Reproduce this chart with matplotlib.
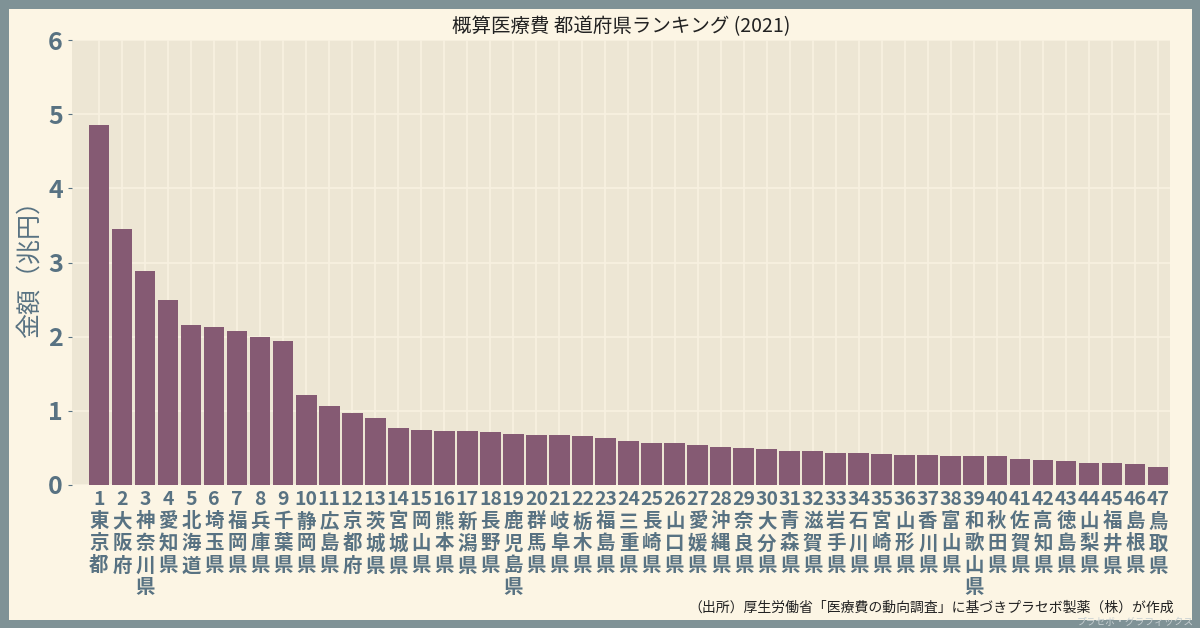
import matplotlib.pyplot as plt

plt.rcParams["font.family"] = "Noto Sans CJK JP"

# 都道府県と概算医療費（兆円）
prefs = ["東京都", "大阪府", "神奈川県", "愛知県", "北海道", "埼玉県", "福岡県", "兵庫県", "千葉県",
         "静岡県", "広島県", "京都府", "茨城県", "宮城県", "岡山県", "熊本県", "新潟県", "長野県",
         "鹿児島県", "群馬県", "岐阜県", "栃木県", "福島県", "三重県", "長崎県", "山口県", "愛媛県",
         "沖縄県", "奈良県", "大分県", "青森県", "滋賀県", "岩手県", "石川県", "宮崎県", "山形県",
         "香川県", "富山県", "和歌山県", "秋田県", "佐賀県", "高知県", "徳島県", "山梨県", "福井県",
         "島根県", "鳥取県"]
values = [4.85, 3.45, 2.88, 2.49, 2.16, 2.13, 2.08, 1.99, 1.94,
          1.21, 1.06, 0.97, 0.90, 0.77, 0.74, 0.73, 0.73, 0.71,
          0.69, 0.67, 0.67, 0.66, 0.63, 0.59, 0.57, 0.56, 0.54,
          0.51, 0.50, 0.48, 0.46, 0.45, 0.43, 0.43, 0.42, 0.40,
          0.40, 0.39, 0.39, 0.39, 0.35, 0.34, 0.32, 0.29, 0.29,
          0.28, 0.24]
ranks = list(range(1, len(prefs) + 1))

tick_color = "#587282"
fig = plt.figure(figsize=(12, 6.28), dpi=100, facecolor="#fcf5e4",
                 edgecolor="#7f9296", linewidth=12)
ax = fig.add_axes([0.06, 0.228, 0.915, 0.708])
ax.set_facecolor("#ede6d4")
ax.bar(ranks, values, width=0.9, color="#855a73", zorder=3)
ax.set_xlim(-0.17, len(prefs) + 0.52)
ax.set_ylim(0, 6)
ax.set_xticks(ranks)
ax.set_xticklabels([f"{r}\n" + "\n".join(p) for r, p in zip(ranks, prefs)],
                   va="top", fontsize=14, fontweight="bold", color=tick_color, linespacing=1.2)
ax.tick_params(axis="x", length=0, pad=4)
ax.tick_params(axis="y", labelsize=18, labelcolor=tick_color, color=tick_color, length=3)
for t in ax.get_yticklabels():
    t.set_fontweight("bold")
ax.grid(True, color="#f8f1e1", linewidth=1.2, zorder=0)
for s in ax.spines.values():
    s.set_visible(False)
ax.set_ylabel("金額（兆円）", fontsize=18, color=tick_color)
ax.set_title("概算医療費 都道府県ランキング (2021)", fontsize=14, color="#222222", pad=6)
fig.text(0.978, 0.022, "（出所）厚生労働省「医療費の動向調査」に基づきプラセボ製薬（株）が作成",
         ha="right", va="bottom", fontsize=10, color="#222222")
fig.text(0.995, 0.002, "プラセボ・グラフィックス", ha="right", va="bottom", fontsize=7, color="#c8d0d2")
fig.savefig("out.png", facecolor=fig.get_facecolor(), edgecolor=fig.get_edgecolor())
